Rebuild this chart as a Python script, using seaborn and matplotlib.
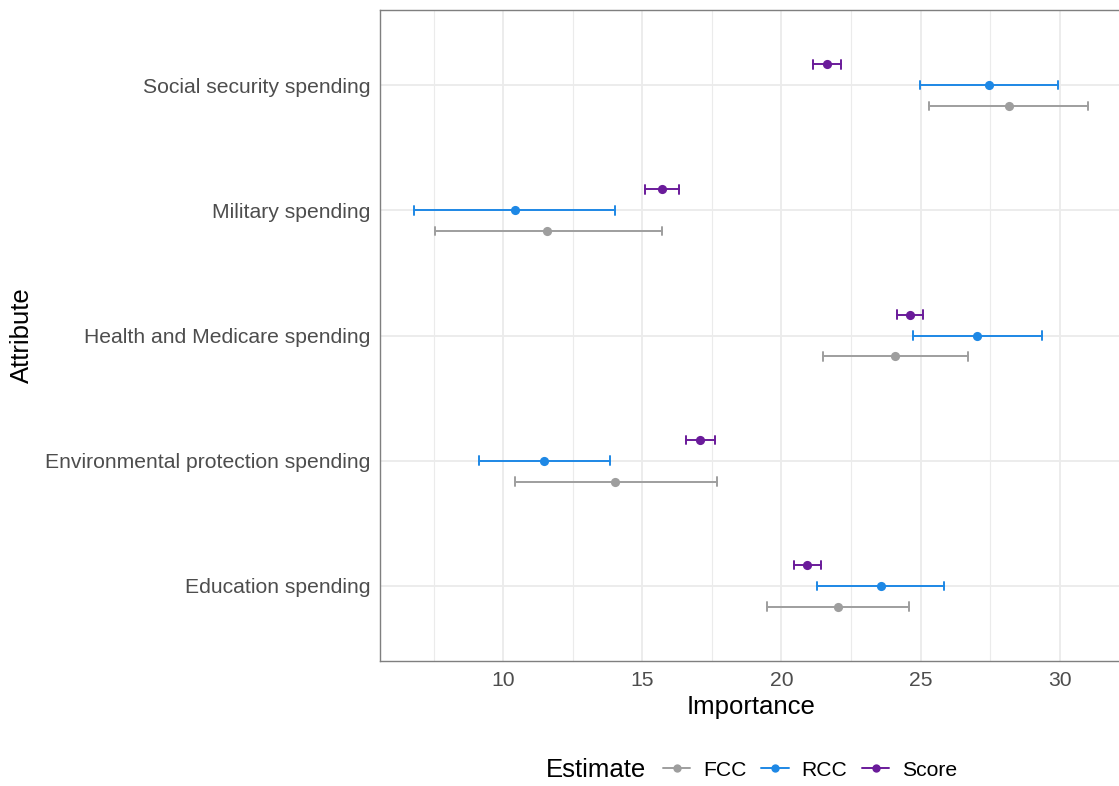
import numpy as np
import pandas as pd
import matplotlib
matplotlib.use("Agg")
import matplotlib.pyplot as plt
from matplotlib.lines import Line2D
from matplotlib.ticker import MultipleLocator
import seaborn as sns

# Attributes, listed top to bottom
attributes = [
    "Social security spending",
    "Military spending",
    "Health and Medicare spending",
    "Environmental protection spending",
    "Education spending",
]

# Point estimates and interval bounds for each estimate type
fcc_est = [28.17, 11.59, 24.08, 14.03, 22.02]
fcc_lo = [25.31, 7.53, 21.51, 10.42, 19.49]
fcc_hi = [31.03, 15.69, 26.69, 17.68, 24.59]

rcc_est = [27.46, 10.41, 27.03, 11.47, 23.56]
rcc_lo = [24.98, 6.78, 24.73, 9.14, 21.29]
rcc_hi = [29.95, 14.03, 29.37, 13.83, 25.86]

score_est = [21.64, 15.69, 24.61, 17.07, 20.92]
score_lo = [21.12, 15.10, 24.15, 16.56, 20.44]
score_hi = [22.15, 16.31, 25.10, 17.61, 21.42]

estimates = ["FCC", "RCC", "Score"]
colors = {"FCC": "#9E9E9E", "RCC": "#1E88E5", "Score": "#6A1B9A"}

# Long table: lower bound, estimate and upper bound per attribute/estimate,
# so the median gives the point and the full range gives the interval
series = {
    "FCC": (fcc_lo, fcc_est, fcc_hi),
    "RCC": (rcc_lo, rcc_est, rcc_hi),
    "Score": (score_lo, score_est, score_hi),
}
rows = []
for name, (lo, est, hi) in series.items():
    for i, attr in enumerate(attributes):
        for v in (lo[i], est[i], hi[i]):
            rows.append({"Attribute": attr, "Estimate": name, "Importance": v})
df = pd.DataFrame(rows)

sns.set_theme(style="white")
plt.rcParams["font.family"] = ["Liberation Sans", "DejaVu Sans"]

fig = plt.figure(figsize=(11.19, 7.86), dpi=100)
ax = fig.add_axes([380 / 1119, 1 - 661 / 786, 742 / 1119, 651 / 786])

sns.pointplot(
    data=df, x="Importance", y="Attribute", hue="Estimate",
    order=attributes, hue_order=["Score", "RCC", "FCC"],
    palette=colors, estimator="median", errorbar=("pi", 100),
    dodge=1 / 3, capsize=0.068, linestyle="none",
    markers="o", markersize=6.6, markeredgewidth=0,
    err_kws={"linewidth": 1.4}, legend=False, ax=ax, zorder=3,
)

ax.set_xlim(5.57, 32.24)
ax.set_ylim(4.6, -0.6)
ax.xaxis.set_major_locator(MultipleLocator(5))
ax.xaxis.set_minor_locator(MultipleLocator(2.5))
ax.set_axisbelow(True)
ax.grid(True, which="major", color="#EBEBEB", linewidth=1.3)
ax.grid(True, which="minor", axis="x", color="#EBEBEB", linewidth=0.8)
ax.tick_params(axis="x", which="minor", length=0)
ax.tick_params(axis="both", which="major", length=4, width=1.0, color="#4D4D4D",
               labelsize=15.2, labelcolor="#4D4D4D", pad=3)
for s in ax.spines.values():
    s.set_color("#7F7F7F")
    s.set_linewidth(1.0)

ax.set_xlabel("Importance", fontsize=18.5, color="black", labelpad=4)
ax.set_ylabel("Attribute", fontsize=18.5, color="black", labelpad=8)

# Legend along the bottom, title on the left
fig.text(546 / 1119, 1 - 770 / 786, "Estimate", fontsize=18.5,
         color="black", ha="left", va="center")
handles = [
    Line2D([0], [0], color=colors[k], marker="o", markersize=6.0,
           markeredgewidth=0, linewidth=1.4)
    for k in estimates
]
leg = fig.legend(handles, estimates, loc="center left",
                 bbox_to_anchor=(663 / 1119, 1 - 770 / 786), ncol=3,
                 frameon=False, fontsize=15.2, handlelength=1.3,
                 handletextpad=0.6, columnspacing=0.7, borderaxespad=0,
                 borderpad=0)
for t in leg.get_texts():
    t.set_color("black")

fig.savefig("out.png", dpi=100)
